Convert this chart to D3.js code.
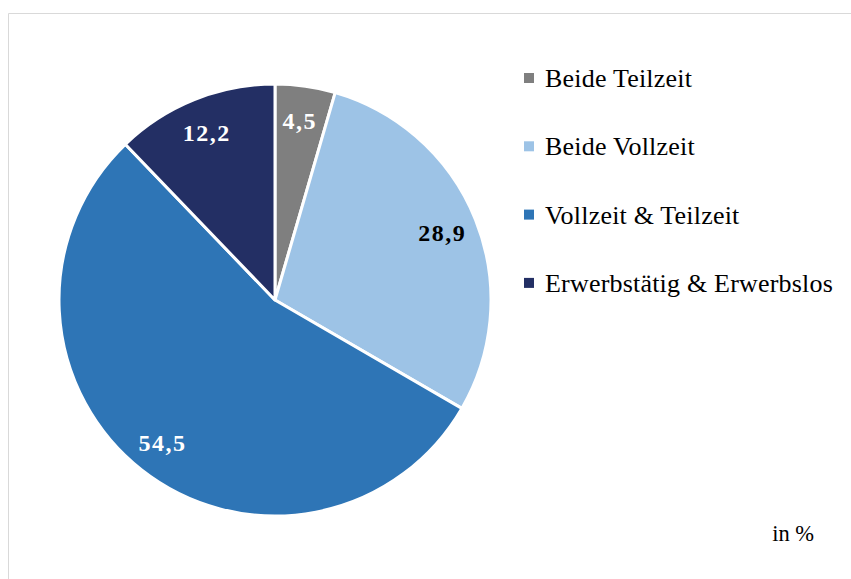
<!DOCTYPE html>
<html>

<head>
    <meta charset="UTF-8">
    <style>
        body { margin: 0; background: #fff; }
        svg { display: block; font-family: "Liberation Serif", "DejaVu Serif", serif; }
    </style>
</head>

<body>
    <svg></svg>
    <script src="https://d3js.org/d3.v7.min.js"></script>

    <script>

        let width = 851, height = 579;

        // data
        let categories = ["Beide Teilzeit", "Beide Vollzeit", "Vollzeit & Teilzeit", "Erwerbstätig & Erwerbslos"];
        let values = [4.5, 28.9, 54.5, 12.2];
        let colors = ["#7f7f7f", "#9dc3e6", "#2e75b6", "#232f64"];
        let labelColors = ["#fff", "#000", "#fff", "#fff"];
        let unitLabel = "in %";

        let svg = d3.select("svg")
            .attr("width", width)
            .attr("height", height);

        // light frame (top and left edges only visible)
        svg.append("path")
            .attr("d", "M8.5," + height + " V13.5 H" + width)
            .attr("fill", "none")
            .attr("stroke", "#d9d9d9")
            .attr("stroke-width", 1);

        let cx = 275, cy = 300, r = 216;

        let pie = d3.pie().sort(null).value(d => d.value);
        let arcs = pie(categories.map((c, i) => ({ name: c, value: values[i], i: i })));

        let arc = d3.arc().innerRadius(0).outerRadius(r);
        let labelArc = d3.arc().innerRadius(181).outerRadius(181);

        let g = svg.append("g").attr("transform", "translate(" + cx + "," + cy + ")");

        g.selectAll("path")
            .data(arcs)
            .enter()
            .append("path")
            .attr("d", arc)
            .attr("fill", d => colors[d.data.i])
            .attr("stroke", "#fff")
            .attr("stroke-width", 3)
            .attr("stroke-linejoin", "round");

        // value labels (german decimal comma)
        g.selectAll("text")
            .data(arcs)
            .enter()
            .append("text")
            .attr("transform", d => "translate(" + labelArc.centroid(d) + ")")
            .attr("x", -0.75)
            .attr("text-anchor", "middle")
            .attr("dy", "0.35em")
            .attr("font-size", 24)
            .attr("letter-spacing", 1.5)
            .attr("font-weight", "bold")
            .attr("fill", d => labelColors[d.data.i])
            .text(d => d3.format(".1f")(d.data.value).replace(".", ","));

        // legend
        let legend = svg.append("g").attr("transform", "translate(524,78)");
        let rows = legend.selectAll("g")
            .data(categories)
            .enter()
            .append("g")
            .attr("transform", (d, i) => "translate(0," + (i * 68.3) + ")");

        rows.append("rect")
            .attr("x", 0)
            .attr("y", -5)
            .attr("width", 10)
            .attr("height", 10)
            .attr("fill", (d, i) => colors[i]);

        rows.append("text")
            .attr("x", 21)
            .attr("dy", "0.35em")
            .attr("font-size", 26)
            .attr("letter-spacing", 0.2)
            .attr("fill", "#000")
            .text(d => d);

        svg.append("text")
            .attr("x", 814)
            .attr("y", 541)
            .attr("text-anchor", "end")
            .attr("font-size", 22.5)
            .attr("fill", "#000")
            .text(unitLabel);

    </script>

</body>

</html>
